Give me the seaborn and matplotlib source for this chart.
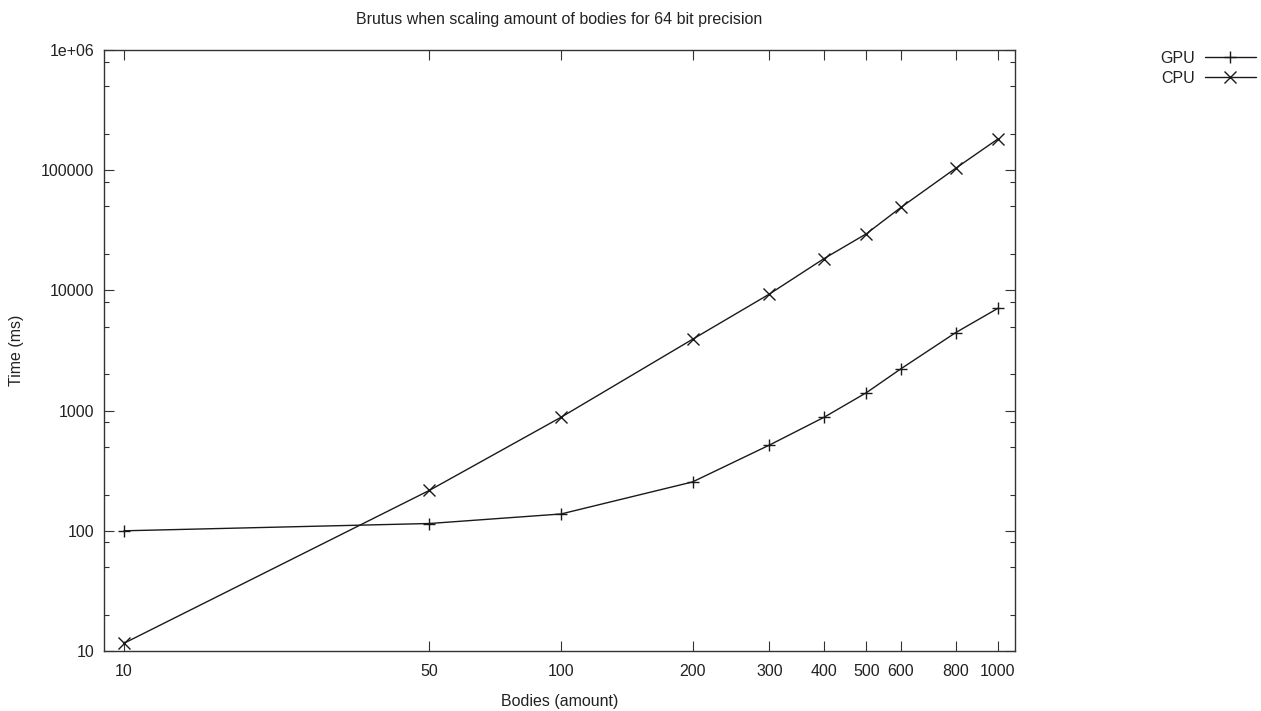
import numpy as np
import pandas as pd
import matplotlib
matplotlib.use("Agg")
import matplotlib.pyplot as plt
import seaborn as sns
from matplotlib.ticker import FixedLocator, FixedFormatter, LogLocator, NullFormatter, NullLocator
from matplotlib.lines import Line2D

bodies = [10, 50, 100, 200, 300, 400, 500, 600, 800, 1000]
gpu_ms = [100, 115, 138, 255, 517, 880, 1410, 2230, 4450, 7100]
cpu_ms = [11.6, 217, 880, 3920, 9330, 18400, 29600, 49100, 103700, 182000]
x_ticks = [10, 50, 100, 200, 300, 400, 500, 600, 800, 1000]
y_ticks = [10, 100, 1000, 10000, 100000, 1000000]
y_tick_labels = ["10", "100", "1000", "10000", "100000", "1e+06"]

df = pd.DataFrame({
    "Bodies": bodies * 2,
    "Time": gpu_ms + cpu_ms,
    "Device": ["GPU"] * len(bodies) + ["CPU"] * len(bodies),
})

sns.set_style("ticks")
plt.rcParams["font.family"] = ["Liberation Sans", "DejaVu Sans"]
plt.rcParams["font.size"] = 11.5

fig = plt.figure(figsize=(12.61, 7.11), dpi=100)
ax = fig.add_axes([104 / 1261, 1 - 651 / 711, (1015 - 104) / 1261, (651 - 50) / 711])

col = "#1a1a1a"
fs = 11.5
sns.lineplot(data=df, x="Bodies", y="Time", style="Device", hue="Device",
             palette={"GPU": col, "CPU": col},
             markers={"GPU": "+", "CPU": "x"}, dashes=False,
             markersize=9, markeredgewidth=1.0, markeredgecolor=col,
             linewidth=1.0, ax=ax, legend=False)

ax.set_xscale("log")
ax.set_yscale("log")
ax.set_xlim(9.0, 1094)
ax.set_ylim(10, 1e6)

ax.xaxis.set_major_locator(FixedLocator(x_ticks))
ax.xaxis.set_major_formatter(FixedFormatter([str(v) for v in x_ticks]))
ax.xaxis.set_minor_locator(NullLocator())
ax.yaxis.set_major_locator(FixedLocator(y_ticks))
ax.yaxis.set_major_formatter(FixedFormatter(y_tick_labels))
ax.yaxis.set_minor_locator(LogLocator(base=10, subs=[2, 5, 8]))
ax.yaxis.set_minor_formatter(NullFormatter())

ax.tick_params(which="both", direction="in", top=True, right=True,
               color="#333333", width=0.8, labelsize=fs, labelcolor="#222222")
ax.tick_params(which="major", length=7)
ax.tick_params(which="minor", length=3.5)
ax.tick_params(axis="y", pad=7)
ax.tick_params(axis="x", pad=9)

for s in ax.spines.values():
    s.set_color("#333333")
    s.set_linewidth(1.0)
    s.set_visible(True)

ax.set_xlabel("Bodies (amount)", fontsize=fs, color="#222222", labelpad=11)
ax.set_ylabel("Time (ms)", fontsize=fs, color="#222222", labelpad=12)
ax.set_title("Brutus when scaling amount of bodies for 64 bit precision",
             fontsize=fs, color="#222222", pad=19)

handles = [
    Line2D([], [], color=col, lw=1.0, marker="+", markersize=9, markeredgewidth=1.0),
    Line2D([], [], color=col, lw=1.0, marker="x", markersize=9, markeredgewidth=1.0),
]
fig.legend(handles, ["GPU", "CPU"], loc="upper right",
           bbox_to_anchor=(1256 / 1261, 1 - 51 / 711), frameon=False,
           markerfirst=False, handlelength=3.2, handletextpad=0.6,
           labelspacing=0.3, borderpad=0, borderaxespad=0, fontsize=fs,
           labelcolor="#222222")

fig.savefig("out.png", dpi=100, facecolor="white")
